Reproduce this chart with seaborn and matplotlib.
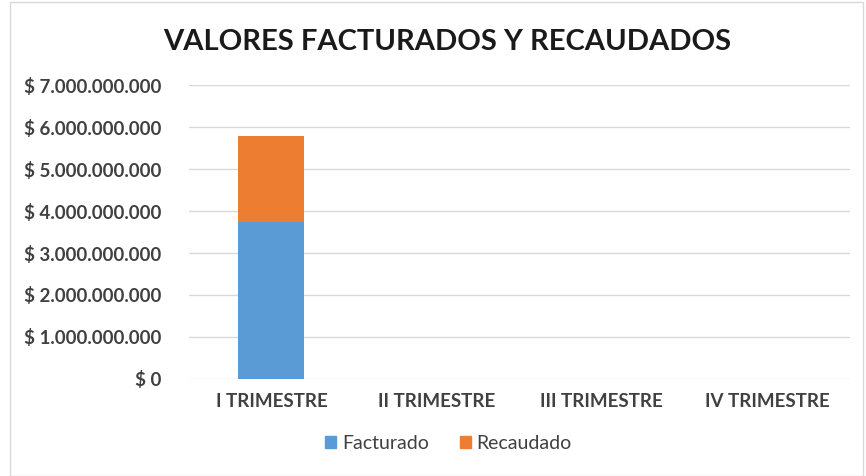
import pandas as pd
import matplotlib.pyplot as plt
import seaborn as sns
from matplotlib.ticker import FuncFormatter
from matplotlib.patches import Rectangle, Patch

# --Daten--
trimestres = ["I TRIMESTRE", "II TRIMESTRE", "III TRIMESTRE", "IV TRIMESTRE"]
facturado = [3750000000, 0, 0, 0]
recaudado = [2040000000, 0, 0, 0]

color_fact = "#5b9bd5"
color_rec = "#ed7d31"
gris = "#404040"

df = pd.DataFrame({"Trimestre": trimestres, "Facturado": facturado, "Recaudado": recaudado})
df["Total"] = df["Facturado"] + df["Recaudado"]

sns.set_style("white")
plt.rcParams["font.family"] = ["Lato", "DejaVu Sans"]

fig = plt.figure(figsize=(8.66, 4.76), dpi=100)
ax = fig.add_axes([0.218, 0.204, 0.763, 0.617])

# gestapelt: Gesamt (orange) hinten, Facturado (blau) davor
sns.barplot(data=df, x="Trimestre", y="Total", color=color_rec, width=0.4,
            saturation=1, linewidth=0, ax=ax, zorder=3)
sns.barplot(data=df, x="Trimestre", y="Facturado", color=color_fact, width=0.4,
            saturation=1, linewidth=0, ax=ax, zorder=4)

ax.set_ylim(0, 7000000000)
ax.set_yticks(range(0, 7000000001, 1000000000))
ax.yaxis.set_major_formatter(FuncFormatter(lambda v, p: "$ " + f"{int(v):,}".replace(",", ".")))
ax.grid(axis="y", color="#d9d9d9", linewidth=1, zorder=0)
ax.set_axisbelow(True)
for s in ax.spines.values():
    s.set_visible(False)
ax.set_xlabel("")
ax.set_ylabel("")
ax.tick_params(axis="both", length=0, labelsize=13.5, labelcolor=gris, pad=8)
for lbl in ax.get_xticklabels() + ax.get_yticklabels():
    lbl.set_fontweight("bold")
ax.tick_params(axis="y", pad=20)
ax.tick_params(axis="x", pad=10)

fig.text(0.516, 0.912, "VALORES FACTURADOS Y RECAUDADOS", ha="center", va="center",
         fontsize=21, fontweight="bold", color="#1a1a1a")

handles = [Patch(color=color_fact, label="Facturado"), Patch(color=color_rec, label="Recaudado")]
fig.legend(handles=handles, loc="center", bbox_to_anchor=(0.518, 0.068), ncol=2, frameon=False,
           fontsize=14, handlelength=0.55, handleheight=0.55, handletextpad=0.3, columnspacing=1.6,
           labelcolor=gris)

fig.patches.append(Rectangle((0.012, 0.0), 0.985, 0.995, transform=fig.transFigure,
                             fill=False, edgecolor="#d9d9d9", linewidth=1))

plt.savefig("out.png", dpi=100)
